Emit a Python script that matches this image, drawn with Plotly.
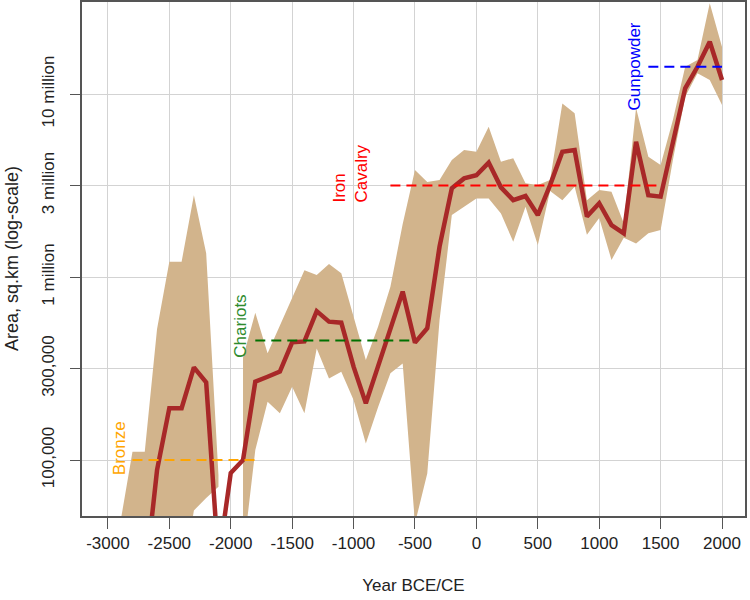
import plotly.graph_objects as go
import numpy as np

nan = float("nan")

# Years (every century)
years = list(range(-2900, 2001, 100))

# Median empire area (sq.km)
median = [nan, nan, 21500, 88000, 192000, 192000, 321000, 266000, 28000, 85000,
          100000, 268000, 285000, 304000, 440000, 445000, 651000, 570000, 563000, 324000,
          204000, 327000, 520000, 832000, 438000, 525000, 1466000, 3055000, 3460000, 3600000,
          4220000, 3090000, 2630000, 2770000, 2180000, 3180000, 4840000, 4940000, 2140000, 2530000,
          1920000, 1733000, 5480000, 2800000, 2750000, 5370000, 10740000, 14100000, 19300000, 11930000]

upper = [45000, 111000, 111000, 520000, 1213000, 1213000, 2800000, 1350000, 82800, nan,
         363000, 638000, 383000, 547000, 776000, 1090000, 1026000, 1178000, 1047000, 597000,
         352000, 536000, 885000, 1950000, 3850000, 3310000, 3390000, 4360000, 4940000, 4840000,
         6630000, 4270000, 4460000, 3250000, 3180000, 3390000, 8890000, 7850000, 2630000, 2985000,
         2925000, 1970000, 8400000, 4540000, 4090000, 7210000, 14100000, 15350000, 31300000, 18100000]

lower = [10000, 10000, 10000, 10000, 10000, 20000, 53000, 62000, 71500, nan,
         30000, 113500, 208000, 180000, 251000, 180000, 407000, 279000, 304000, 213000,
         123000, 195000, 298000, 337000, 45000, 84500, 580000, 2180000, 2420000, 2690000,
         2690000, 2227000, 1560000, 2420000, 1497000, 2950000, 2630000, 3110000, 1700000, 2100000,
         1240000, 1640000, 1527000, 1735000, 1807000, 4360000, 9670000, 12970000, 11930000, 8710000]

# Innovation markers
innov_names = ["Bronze", "Chariots", "Iron<br>Cavalry", "Gunpowder"]
innov_start = [-2800, -1800, -700, 1400]
innov_end = [-1800, -500, 1500, 2000]
innov_level = [100000, 450000, 3162278, 14100000]
innov_label_x = [-2910, -1919, -1024, 1285]
innov_label_y = [116000, 540000, 3660000, 14200000]
innov_line_colors = ["#FFA500", "#007000", "#FF0000", "#0000FF"]
innov_text_colors = ["#FFA500", "#2E8B2E", "#FF0000", "#0000FF"]

x_ticks = list(range(-3000, 2001, 500))
x_tick_text = ["-3000", "-2500", "-2000", "-1500", "-1000", "-500", "0",
               "500", "1000", "1500", "2000"]
y_tick_vals = [1e5, 10 ** 5.5, 1e6, 10 ** 6.5, 1e7]
y_tick_text = ["100,000", "300,000", "1 million", "3 million", "10 million"]

FONT = "Liberation Sans, Arial, sans-serif"

fig = go.Figure()

# Confidence band as polygons (split at the missing century)
segments = []
cur = []
for i, y in enumerate(years):
    if np.isnan(upper[i]):
        if cur:
            segments.append(cur)
        cur = []
    else:
        cur.append(i)
if cur:
    segments.append(cur)

for seg in segments:
    xs = [years[i] for i in seg] + [years[i] for i in reversed(seg)]
    ys = [upper[i] for i in seg] + [lower[i] for i in reversed(seg)]
    fig.add_trace(go.Scatter(x=xs, y=ys, fill="toself", fillcolor="#D2B48C",
                             line=dict(width=0, color="#D2B48C"), mode="lines",
                             hoverinfo="skip", showlegend=False))

# Median line
fig.add_trace(go.Scatter(x=years, y=median, mode="lines",
                         line=dict(color="#A82828", width=4.5),
                         connectgaps=False, showlegend=False))

# Innovation dashed lines
for s, e, lv, c in zip(innov_start, innov_end, innov_level, innov_line_colors):
    fig.add_trace(go.Scatter(x=[s, e], y=[lv, lv], mode="lines",
                             line=dict(color=c, width=2, dash="10px,6px"),
                             showlegend=False))

for name, lx, ly, c in zip(innov_names, innov_label_x, innov_label_y, innov_text_colors):
    fig.add_annotation(x=lx, y=np.log10(ly), text=name, showarrow=False,
                       textangle=-90, xanchor="center", yanchor="middle",
                       align="left", font=dict(family=FONT, size=17, color=c))

# Y axis title placed as paper annotation
fig.add_annotation(xref="paper", yref="paper", x=-(82 - 12) / 663, y=0.5,
                   text="Area, sq.km (log-scale)", showarrow=False, textangle=-90,
                   xanchor="center", yanchor="middle",
                   font=dict(family=FONT, size=18, color="#222"))

fig.update_layout(
    width=750, height=600,
    margin=dict(l=82, r=5, t=2, b=84, autoexpand=False),
    paper_bgcolor="white", plot_bgcolor="white",
    font=dict(family=FONT, size=17, color="#222"),
    xaxis=dict(range=[-3211, 2187], tickvals=x_ticks, ticktext=x_tick_text,
               ticks="outside", ticklen=11,
               tickcolor="#555", tickwidth=1.2, showgrid=True, gridcolor="#D3D3D3",
               gridwidth=1.2, zeroline=False, showline=True, mirror=True,
               linecolor="#555", linewidth=1.6, automargin=False,
               title=dict(text="Year BCE/CE", font=dict(size=17), standoff=27),
               tickfont=dict(size=17)),
    yaxis=dict(type="log", range=[4.694, 7.503], tickvals=y_tick_vals, ticktext=y_tick_text,
               tickangle=-90, ticks="outside", ticklen=10, tickcolor="#555", tickwidth=1.2,
               showgrid=True, gridcolor="#D3D3D3", gridwidth=1.2, zeroline=False,
               showline=True, mirror=True, linecolor="#555", linewidth=1.6,
               automargin=False, ticklabelstandoff=9,
               tickfont=dict(size=17)),
)

fig.write_html("out.html", config={"displayModeBar": False},
               post_script="document.body.style.margin='0px';")
